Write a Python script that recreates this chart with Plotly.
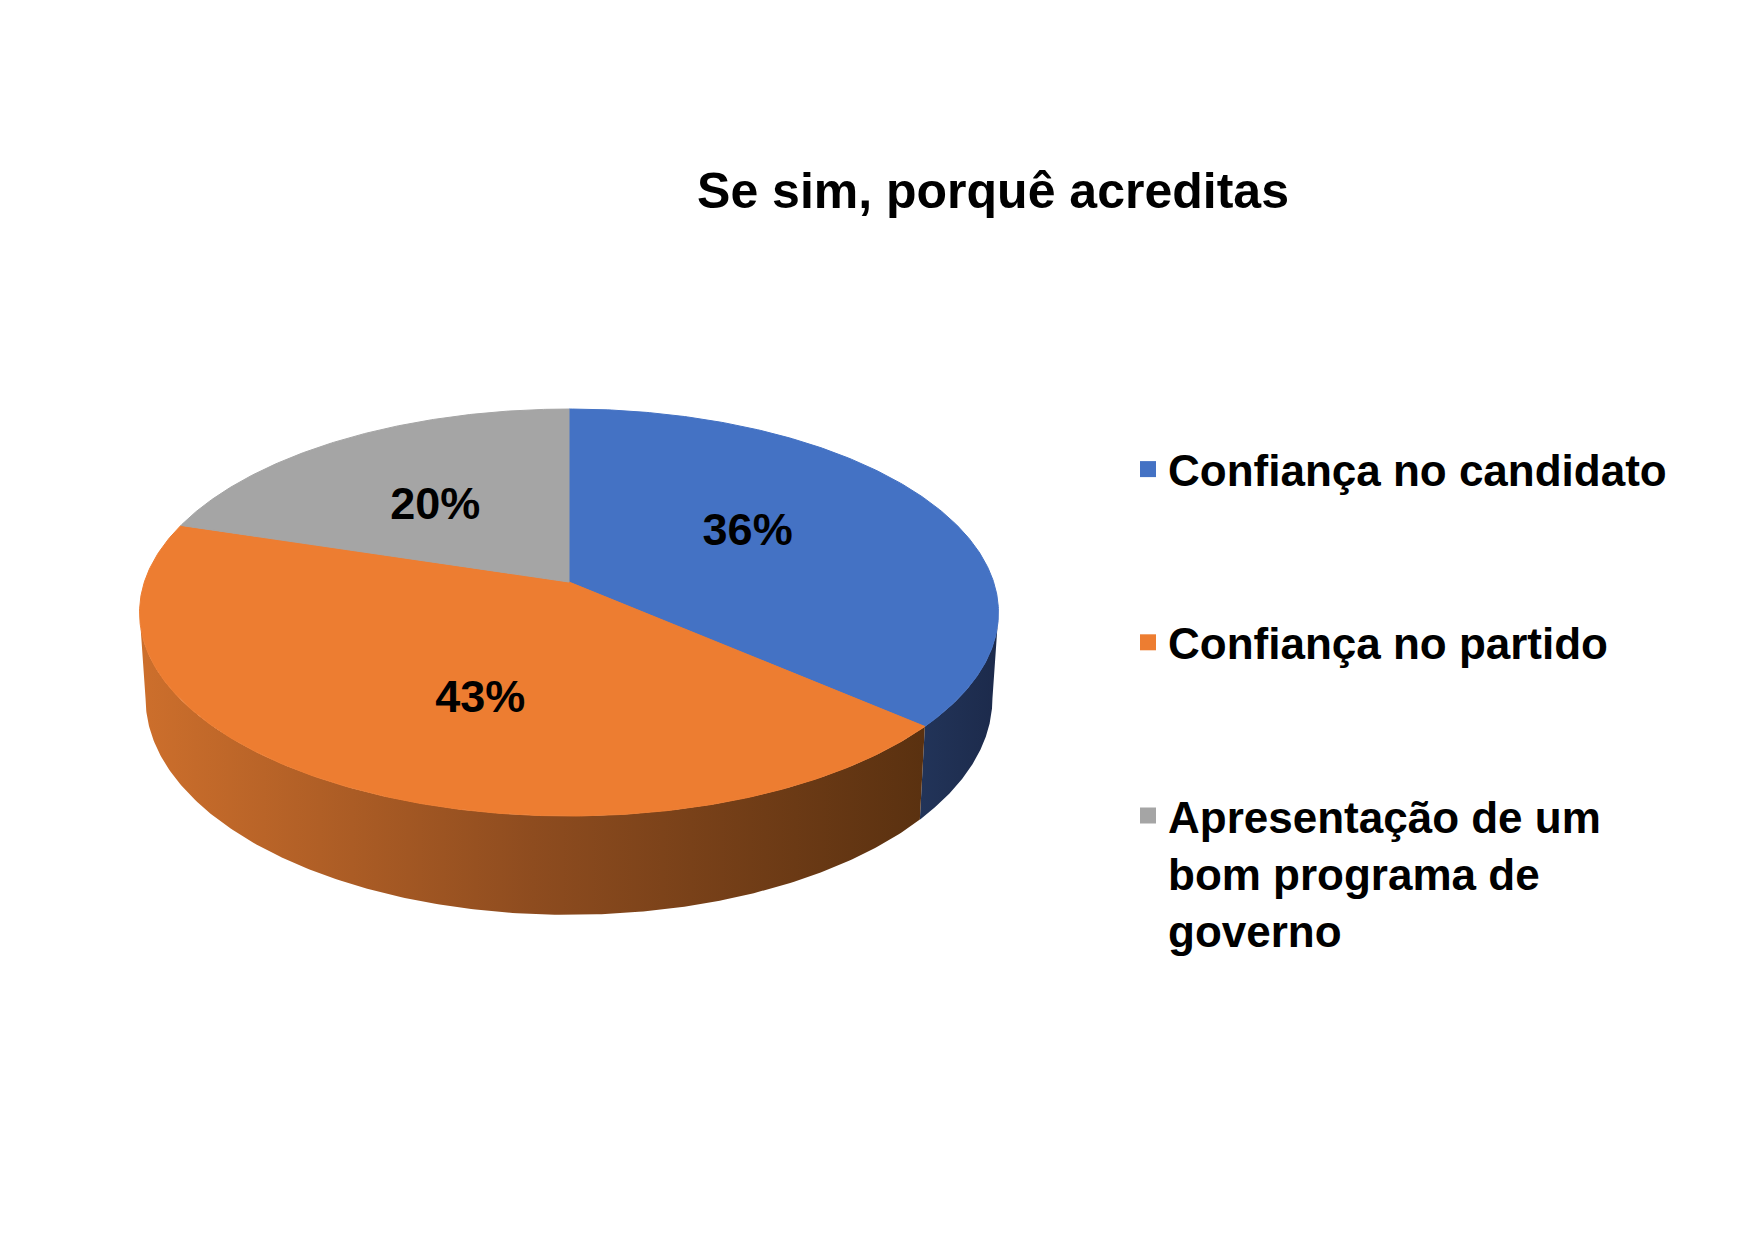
import numpy as np
import plotly.graph_objects as go

# ---------------- data ----------------
categories = ["Confiança no candidato", "Confiança no partido",
              "Apresentação de um bom programa de governo"]
legend_labels = ["Confiança no candidato", "Confiança no partido",
                 "Apresentação de um<br>bom programa de<br>governo"]
values = [36, 43, 20]
pct_labels = ["36%", "43%", "20%"]
title_text = "Se sim, porquê acreditas"

# ---------------- style ----------------
top_colors = ["#4472C4", "#ED7D31", "#A5A5A5"]
side_colorscales = [
    [[0, "#223459"], [1, "#1C2A4B"]],
    [[0, "#CD6F2C"], [0.5, "#8E4C1F"], [1, "#5A3110"]],
    [[0, "#7C7C7C"], [1, "#5E5E5E"]],
]
FONT = "Liberation Sans, Arial, sans-serif"
W, H = 1749, 1241

# perspective geometry of the 3-D pie (pixel space)
CX = 569.0        # horizontal centre
APEX_Y = 582.0    # projected centre of the top face
B = -111.6        # vertical half-extent factor
C = 0.15          # perspective factor
A = 424.6         # horizontal radius factor
DEPTH = 84.0      # thickness of the pie
BOTTOM_X_SCALE = 0.986
LABEL_R = [0.52, 0.56, 0.54]
LABEL_SHIFT = [-8.0, -9.0, -2.0]
LABEL_DY = 5.0
N = 240


def project(theta_deg, r=1.0, drop=0.0, xscale=1.0):
    t = np.radians(np.asarray(theta_deg, dtype=float))
    X = np.asarray(r) * np.sin(t)
    Z = np.asarray(r) * np.cos(t)
    w = 1 + C * Z
    x = CX + A * xscale * X / w
    y = (APEX_Y + B * Z + drop) / w
    return x, y


total = float(sum(values))
fracs = [v / total for v in values]
starts = np.concatenate([[0.0], np.cumsum(fracs)[:-1]]) * 360.0
ends = np.cumsum(fracs) * 360.0

sil = np.degrees(np.arccos(-C))
sil_lo, sil_hi = sil, 360.0 - sil

fig = go.Figure()

# side walls (front visible part)
for i, cat in enumerate(categories):
    lo = max(starts[i], sil_lo)
    hi = min(ends[i], sil_hi)
    if lo >= hi:
        continue
    th = np.linspace(lo, hi, N)
    xt, yt = project(th)
    xb, yb = project(th[::-1], drop=DEPTH, xscale=BOTTOM_X_SCALE)
    xs = np.concatenate([xt, xb, xt[:1]])
    ys = np.concatenate([yt, yb, yt[:1]])
    fig.add_trace(go.Scatter(
        x=xs, y=ys, mode="lines", fill="toself",
        line=dict(width=0), hoverinfo="skip", showlegend=False,
        fillgradient=dict(type="horizontal", colorscale=side_colorscales[i]),
    ))

# top faces
ax, ay = project(0.0, r=0.0)
for i, cat in enumerate(categories):
    th = np.linspace(starts[i], ends[i], N)
    xt, yt = project(th)
    xs = np.concatenate([[ax], xt, [ax]])
    ys = np.concatenate([[ay], yt, [ay]])
    fig.add_trace(go.Scatter(
        x=xs, y=ys, mode="lines", fill="toself",
        fillcolor=top_colors[i], line=dict(width=1, color=top_colors[i]),
        name=cat, hoverinfo="name", showlegend=False,
    ))

# percentage labels
mids = (starts + ends) / 2.0 + np.array(LABEL_SHIFT)
lx, ly = project(mids, r=np.array(LABEL_R))
fig.add_trace(go.Scatter(
    x=lx, y=ly + LABEL_DY, mode="text", text=pct_labels, textposition="middle center",
    textfont=dict(family=FONT, size=45, color="black", weight="bold"),
    hoverinfo="skip", showlegend=False,
))

# legend entries
for i, cat in enumerate(categories):
    fig.add_trace(go.Scatter(
        x=[None], y=[None], mode="markers",
        marker=dict(symbol="square", size=20, color=top_colors[i]),
        name=legend_labels[i], legendgroup=cat, showlegend=True,
    ))

fig.update_layout(
    width=W, height=H,
    margin=dict(l=0, r=0, t=0, b=0),
    paper_bgcolor="white", plot_bgcolor="white",
    xaxis=dict(range=[0, W], visible=False, fixedrange=True),
    yaxis=dict(range=[H, 0], visible=False, fixedrange=True),
    title=dict(text="<b>" + title_text + "</b>", x=993 / W, xanchor="center",
               y=1 - 190 / H, yanchor="middle",
               font=dict(family=FONT, size=50, color="black")),
    showlegend=True,
    legend=dict(x=1128 / W, xanchor="left", y=1 - 434 / H, yanchor="top",
                font=dict(family=FONT, size=44, color="black", weight="bold"),
                tracegroupgap=113, valign="top", bgcolor="rgba(0,0,0,0)",
                itemclick=False, itemdoubleclick=False),
)

fig.write_html("out.html", config={"displayModeBar": False},
               post_script="document.body.style.margin='0';document.body.style.overflow='hidden';")
